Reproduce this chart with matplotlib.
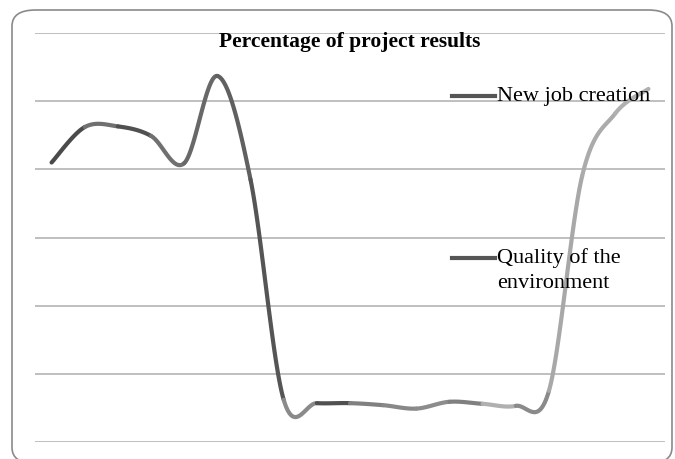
import matplotlib.pyplot as plt
import numpy as np
from matplotlib.patches import FancyBboxPatch

# values (percent), one per category
values = [41.0, 46.2, 46.3, 44.9, 40.9, 53.7, 38.5, 6.2, 5.7, 5.7,
          5.4, 4.9, 5.9, 5.6, 5.3, 7.5, 39.0, 48.2, 51.8]
# grey shade of each segment between two points
seg_colors = ['#4a4a4a', '#707070', '#505050', '#707070', '#686868', '#606060',
              '#555555', '#8a8a8a', '#505050', '#808080', '#888888', '#8c8c8c',
              '#808080', '#b0b0b0', '#8a8a8a', '#a8a8a8', '#ababab', '#b0b0b0']
legend_labels = ['New job creation', 'Quality of the\nenvironment']
title = 'Percentage of project results'

fig = plt.figure(figsize=(6.75, 4.59), dpi=100)

# rounded frame around the chart
frame = FancyBboxPatch((12 / 675, -0.01), 660 / 675, 1 - 10 / 459 + 0.01,
                       boxstyle='round,pad=0,rounding_size=0.035',
                       transform=fig.transFigure, facecolor='none',
                       edgecolor='#8a8a8a', linewidth=1.2, zorder=-1)
fig.patches.append(frame)

ax = fig.add_axes([35 / 675, 1 - 442 / 459, 630 / 675, 409 / 459])
ax.set_xlim(-0.5, len(values) - 0.5)
ax.set_ylim(0, 60)
ax.set_yticks(np.arange(0, 61, 10))
ax.yaxis.grid(True, color='#b4b4b4', linewidth=1.2)
ax.set_xticks([])
ax.tick_params(left=False, labelleft=False)
for s in ax.spines.values():
    s.set_visible(False)
ax.patch.set_alpha(0)
ax.set_axisbelow(True)

# smoothed line (catmull-rom, like a smoothed office chart)
x = np.arange(len(values), dtype=float)
y = np.array(values)
px = np.concatenate([[x[0]], x, [x[-1]]])
py = np.concatenate([[y[0]], y, [y[-1]]])
t = np.linspace(0, 1, 30)
for i in range(len(values) - 1):
    p0, p1, p2, p3 = [np.array([px[i + k], py[i + k]]) for k in range(4)]
    c1 = p1 + (p2 - p0) / 6
    c2 = p2 - (p3 - p1) / 6
    pts = ((1 - t) ** 3)[:, None] * p1 + (3 * (1 - t) ** 2 * t)[:, None] * c1 \
        + (3 * (1 - t) * t ** 2)[:, None] * c2 + (t ** 3)[:, None] * p2
    ax.plot(pts[:, 0], pts[:, 1], color=seg_colors[i], linewidth=3,
            solid_capstyle='round', zorder=3, clip_on=False)

# title
fig.text(350 / 675, 1 - 42 / 459, title, ha='center', va='center',
         fontsize=15.5, fontweight='bold', family='Liberation Serif')

# legend entries drawn on the right
for label, ly in zip(legend_labels, [96, 258]):
    fig.add_artist(plt.Line2D([452 / 675, 495 / 675], [1 - ly / 459, 1 - ly / 459],
                              color='#555555', linewidth=3, transform=fig.transFigure))
    for k, line in enumerate(label.split('\n')):
        fig.text(497 / 675, 1 - (ly + 5 + 25 * k) / 459, line, ha='left',
                 va='baseline', fontsize=16, family='Liberation Serif')

fig.savefig('out.png', dpi=100)
